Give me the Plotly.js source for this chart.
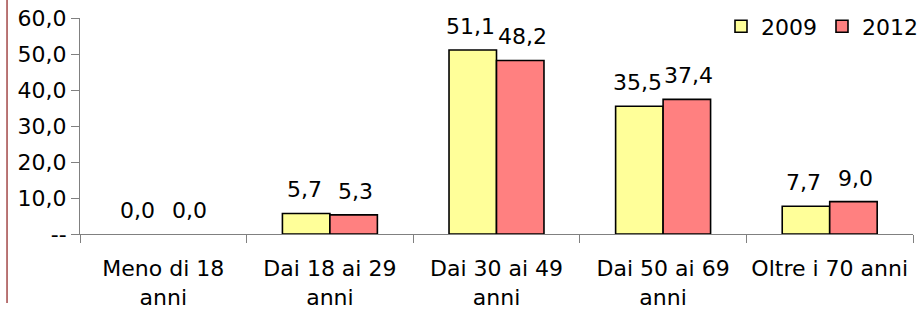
<!DOCTYPE html>
<html>
<head>
<meta charset="utf-8">
<script src="https://cdn.plot.ly/plotly-3.0.1.min.js"></script>
<style>html,body{margin:0;padding:0;background:#fff;}#chart{width:921px;height:310px;}</style>
</head>
<body>
<div id="chart"></div>
<script>
var categories = ["Meno di 18<br>anni", "Dai 18 ai 29<br>anni", "Dai 30 ai 49<br>anni", "Dai 50 ai 69<br>anni", "Oltre i 70 anni"];
var values2009 = [0.0, 5.7, 51.1, 35.5, 7.7];
var values2012 = [0.0, 5.3, 48.2, 37.4, 9.0];
var seriesNames = ["2009", "2012"];
var yTickVals = [0, 10, 20, 30, 40, 50, 60];
var yTickText = ["--", "10,0", "20,0", "30,0", "40,0", "50,0", "60,0"];

var font = "DejaVu Sans, Verdana, sans-serif";
var fs = 22;
var colors = ["#FFFF99", "#FF8080"];
var series = [values2009, values2012];
var W = 921, H = 310, ML = 80, MR = 8, MT = 18, MB = 76;
var bargap = 0.43;

var traces = [];
series.forEach(function (vals, i) {
  traces.push({type: "bar", name: seriesNames[i], x: categories, y: vals, offsetgroup: "g" + i,
    showlegend: false,
    marker: {color: colors[i], line: {color: "#000000", width: vals.map(function (v) { return v === 0 ? 0 : 1.6; })}},
    hoverinfo: "none"});
});
// legend entries (trace without drawn values, sharing the same offset groups)
series.forEach(function (vals, i) {
  traces.push({type: "bar", name: seriesNames[i], x: categories, y: categories.map(function () { return null; }),
    offsetgroup: "g" + i, showlegend: true, hoverinfo: "none",
    marker: {color: colors[i], line: {color: "#000000", width: 1.6}}});
});

// data labels through the axes (category + value), shifted to the bar of each series
var catPx = (W - ML - MR) / categories.length;
var barPx = catPx * (1 - bargap) / 2;
var annotations = [];
series.forEach(function (vals, i) {
  vals.forEach(function (v, j) {
    annotations.push({xref: "x", yref: "y", x: categories[j], y: v,
      text: v.toFixed(1).replace(".", ","), showarrow: false,
      xanchor: "center", yanchor: "bottom", xshift: (i - 0.5) * barPx + (i === 0 ? -2 : 2), yshift: 9,
      font: {family: font, size: fs, color: "#000"}});
  });
});

var layout = {
  width: W, height: H,
  margin: {l: ML, r: MR, t: MT, b: MB, autoexpand: false},
  paper_bgcolor: "#fff", plot_bgcolor: "#fff",
  separators: ",.",
  font: {family: font, size: fs, color: "#000"},
  barmode: "group", bargap: bargap, bargroupgap: 0,
  showlegend: true,
  legend: {orientation: "h", x: 1.012, xanchor: "right", y: 1.058, yanchor: "top",
           font: {family: font, size: fs}, bgcolor: "rgba(0,0,0,0)", traceorder: "normal"},
  xaxis: {type: "category", showline: true, linecolor: "#808080", linewidth: 1,
          ticks: "outside", tickson: "boundaries", ticklen: 8, tickcolor: "#808080",
          ticklabelstandoff: 15, tickangle: 0, automargin: false,
          showgrid: false, tickfont: {family: font, size: fs}, fixedrange: true},
  yaxis: {range: [0, 60], showline: true, linecolor: "#808080", linewidth: 1,
          ticks: "outside", ticklen: 8, tickcolor: "#808080", showgrid: false, zeroline: false,
          automargin: false,
          tickvals: yTickVals, ticktext: yTickText, tickfont: {family: font, size: fs}, fixedrange: true},
  annotations: annotations,
  shapes: [{type: "line", xref: "paper", yref: "paper", x0: -0.0876, x1: -0.0876, y0: -0.32, y1: 1.09,
            line: {color: "#8B1A1A", width: 1.2}}]
};

Plotly.newPlot("chart", traces, layout, {displayModeBar: false, staticPlot: true});
</script>
</body>
</html>
